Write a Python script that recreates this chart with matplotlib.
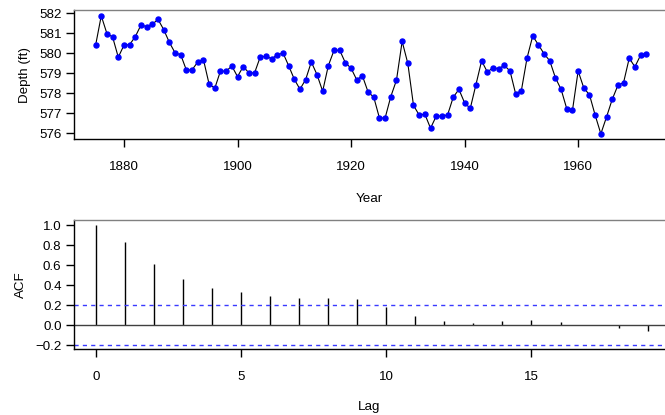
import numpy as np
import matplotlib
matplotlib.use('Agg')
import matplotlib.pyplot as plt

plt.rcParams['font.family'] = ['Liberation Sans', 'DejaVu Sans']

years = list(range(1875, 1973))
depth = [580.38, 581.86, 580.97, 580.80, 579.79, 580.39, 580.42, 580.82, 581.40, 581.32,
         581.44, 581.68, 581.17, 580.53, 580.01, 579.91, 579.14, 579.16, 579.55, 579.67,
         578.44, 578.24, 579.10, 579.09, 579.35, 578.82, 579.32, 579.01, 579.00, 579.80,
         579.83, 579.72, 579.89, 580.01, 579.37, 578.69, 578.19, 578.67, 579.55, 578.92,
         578.09, 579.37, 580.13, 580.14, 579.51, 579.24, 578.66, 578.86, 578.05, 577.79,
         576.75, 576.75, 577.82, 578.64, 580.58, 579.48, 577.38, 576.90, 576.94, 576.24,
         576.84, 576.85, 576.90, 577.79, 578.18, 577.51, 577.23, 578.42, 579.61, 579.05,
         579.26, 579.22, 579.38, 579.10, 577.95, 578.12, 579.75, 580.85, 580.41, 579.96,
         579.61, 578.76, 578.18, 577.21, 577.13, 579.10, 578.25, 577.91, 576.89, 575.96,
         576.80, 577.68, 578.38, 578.52, 579.74, 579.31, 579.89, 579.96]

lags = list(range(20))
acf = [1.000, 0.832, 0.614, 0.460, 0.371, 0.331, 0.294, 0.270, 0.274, 0.259,
       0.185, 0.087, 0.044, 0.022, 0.041, 0.046, 0.035, 0.003, -0.029, -0.058]
ci = 1.96 / np.sqrt(len(depth))

fig = plt.figure(figsize=(6.65, 4.15), dpi=100)
W, H = 665, 415
fs = 9.6

def r_style(ax):
    ax.spines['right'].set_visible(False)
    ax.spines['top'].set_color('#808080')
    ax.spines['left'].set_color('black')
    ax.spines['bottom'].set_color('black')
    for s in ax.spines.values():
        s.set_linewidth(1)
    ax.tick_params(direction='out', length=6, width=1, labelsize=fs, colors='black', pad=10)
    ax.tick_params(axis='y', pad=3)

# top: series
ax1 = fig.add_axes([74 / W, 1 - 139 / H, 1 - 74 / W, 129 / H])
ax1.plot(years, depth, '-', color='black', lw=0.8)
ax1.plot(years, depth, 'o', color='blue', ms=3.6, mec='blue')
ax1.set_xlim(1871.2, 1975.3)
ax1.set_ylim(575.7, 582.15)
ax1.set_xticks([1880, 1900, 1920, 1940, 1960])
ax1.set_yticks([576, 577, 578, 579, 580, 581, 582])
ax1.set_xlabel('Year', fontsize=fs, labelpad=14)
ax1.set_ylabel('Depth (ft)', fontsize=fs, labelpad=6)
r_style(ax1)

# bottom: ACF
ax2 = fig.add_axes([74 / W, 1 - 349 / H, 1 - 74 / W, 129 / H])
ax2.vlines(lags, 0, acf, color='black', lw=1)
ax2.axhline(0, color='#404040', lw=1)
ax2.axhline(ci, color='#3a3aff', ls=(0, (3, 3)), lw=1)
ax2.axhline(-ci, color='#3a3aff', ls=(0, (3, 3)), lw=1)
ax2.set_xlim(-0.76, 19.6)
ax2.set_ylim(-0.24, 1.05)
ax2.set_xticks([0, 5, 10, 15])
ax2.set_yticks([-0.2, 0.0, 0.2, 0.4, 0.6, 0.8, 1.0])
ax2.set_yticklabels(['\u22120.2', '0.0', '0.2', '0.4', '0.6', '0.8', '1.0'])
ax2.set_xlabel('Lag', fontsize=fs, labelpad=13)
ax2.set_ylabel('ACF', fontsize=fs, labelpad=6)
r_style(ax2)

fig.savefig('out.png', dpi=100)
